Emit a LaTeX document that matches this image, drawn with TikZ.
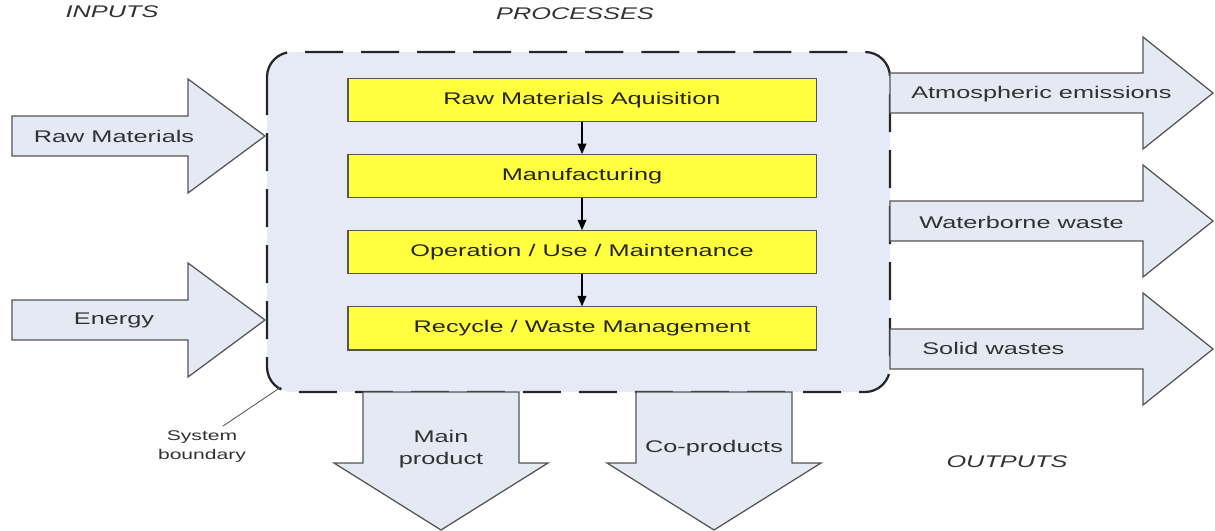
\documentclass[tikz,border=0pt]{standalone}
\usepackage{fontspec}
\setmainfont{Liberation Sans}[FakeStretch=1.5]
\usetikzlibrary{positioning,arrows.meta}

\definecolor{flowfill}{RGB}{228,233,244}
\definecolor{sysfill}{RGB}{229,234,246}
\definecolor{stageyellow}{RGB}{255,255,64}
\definecolor{inkgray}{RGB}{50,50,50}
\definecolor{edgegray}{RGB}{85,85,85}

\begin{document}
\begin{tikzpicture}[x=0.025cm, y=-0.025cm, node distance={8mm},
		stage/.style={draw=edgegray, fill=stageyellow, line width=0.8pt, minimum width=11.7cm, minimum height=10.75mm, inner sep=0pt, text=black!85, font=\fontsize{12}{14}\selectfont},
		flow/.style={draw=edgegray, fill=flowfill, line width=0.9pt, line join=miter},
		flowtext/.style={text=inkgray, inner sep=0pt, font=\fontsize{12}{15.5}\selectfont},
		heading/.style={text=inkgray, font=\fontsize{12}{14}\selectfont\itshape},
		sysline/.style={draw=black!85, fill=sysfill, line width=1.6pt, dash pattern=on 0.95cm off 0.45cm, rounded corners=0.625cm},
		>={Triangle[length=2.6mm,width=2.2mm]}]
	\useasboundingbox (0,0) rectangle (1215,531);

	% system boundary
	\draw[sysline] (267,52) rectangle (890,392);

	% inputs
	\foreach \y in {136,320}
		\draw[flow] (12,\y-20) -- (188,\y-20) -- (188,\y-57) -- (265,\y) -- (188,\y+57) -- (188,\y+20) -- (12,\y+20) -- cycle;
	% outputs to the right
	\foreach \y in {93,221,349}
		\draw[flow] (890,\y-20) -- (1143,\y-20) -- (1143,\y-56) -- (1213,\y) -- (1143,\y+56) -- (1143,\y+20) -- (890,\y+20) -- cycle;
	% outputs downwards
	\foreach \x in {441,714}
		\draw[flow] (\x-78,392) -- (\x-78,463) -- (\x-107,463) -- (\x,530) -- (\x+107,463) -- (\x+78,463) -- (\x+78,392) -- cycle;

	% life cycle stages
	\node[stage] (raw) at (582,100) {Raw Materials Aquisition};
	\node[stage] (manu) [below=of raw] {Manufacturing};
	\node[stage] (use) [below=of manu] {Operation / Use / Maintenance};
	\node[stage] (recycle) [below=of use] {Recycle / Waste Management};

	\draw[->, line width=0.8pt] (raw) to (manu);
	\draw[->, line width=0.8pt] (manu) to (use);
	\draw[->, line width=0.8pt] (use) to (recycle);

	% flow labels
	\node[flowtext] (rawin) at (114,136) {Raw Materials};
	\node[flowtext] (energy) at (114,320) {Energy};
	\node[flowtext, anchor=west] (atmo) at (911,94) {Atmospheric emissions};
	\node[flowtext, anchor=west] (water) at (919,222) {Waterborne waste};
	\node[flowtext, anchor=west] (solid) at (922,348) {Solid wastes};
	\node[flowtext, align=center] (mainprod) at (441,449) {Main\\product};
	\node[flowtext] (coprod) at (714,448) {Co-products};

	\node[heading] (inputs) at (112,12) {INPUTS};
	\node[heading] (processes) at (575,14) {PROCESSES};
	\node[heading] (outputs) at (1007,462) {OUTPUTS};

	% boundary callout
	\node[text=inkgray, align=center, font=\fontsize{10}{13.5}\selectfont] (sysb) at (202,447) {System\\boundary};
	\coordinate (corner) at (281,387);
	\draw[edgegray, line width=0.6pt] (sysb.45) -- (corner);

\end{tikzpicture}
\end{document}
